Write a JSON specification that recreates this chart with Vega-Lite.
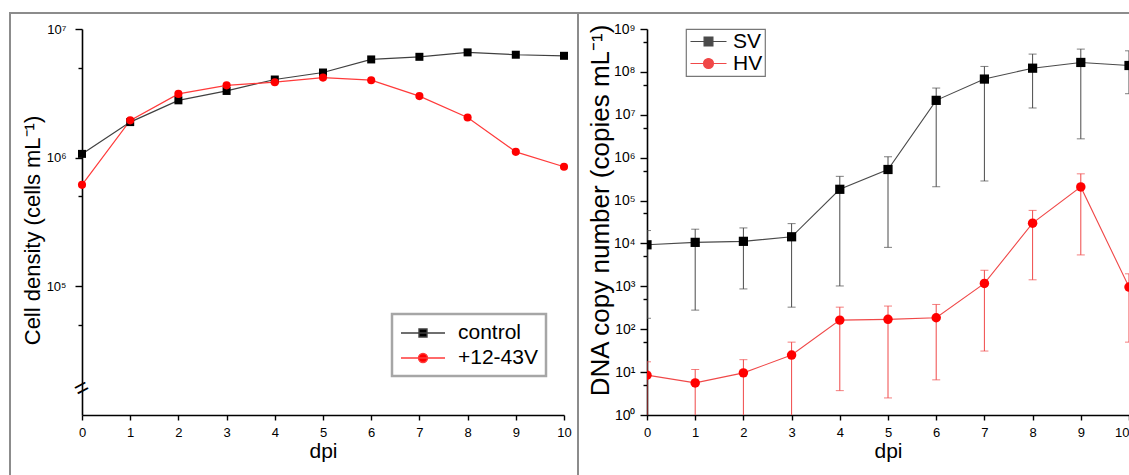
{
  "$schema": "https://vega.github.io/schema/vega-lite/v6.json",
  "padding": {"left": 7, "top": 10, "right": 0, "bottom": 0},
  "spacing": 0,
  "bounds": "flush",
  "columns": 7,
  "resolve": {
    "scale": {"x": "independent", "y": "independent", "color": "independent"},
    "legend": {"color": "independent"}
  },
  "config": {
    "view": {"stroke": null},
    "font": "Liberation Sans",
    "axis": {
      "grid": false,
      "domainColor": "black",
      "domainWidth": 1.6,
      "tickColor": "black",
      "tickWidth": 1.4,
      "labelColor": "black",
      "titleColor": "black",
      "titleFontWeight": "normal",
      "labelFont": "Liberation Sans",
      "titleFont": "Liberation Sans"
    }
  },
  "concat": [
    {"width": 2, "height": 2, "data": {"values": [{}]}, "mark": {"type": "point", "opacity": 0}, "encoding": {}, "view": {"fill": "#8c8c8c", "stroke": null}},
    {"width": 71, "height": 2, "data": {"values": [{}]}, "mark": {"type": "point", "opacity": 0}, "encoding": {}, "view": {"fill": "#8c8c8c", "stroke": null}},
    {"width": 482, "height": 2, "data": {"values": [{}]}, "mark": {"type": "point", "opacity": 0}, "encoding": {}, "view": {"fill": "#8c8c8c", "stroke": null}},
    {"width": 13, "height": 2, "data": {"values": [{}]}, "mark": {"type": "point", "opacity": 0}, "encoding": {}, "view": {"fill": "#8c8c8c", "stroke": null}},
    {"width": 2, "height": 2, "data": {"values": [{}]}, "mark": {"type": "point", "opacity": 0}, "encoding": {}, "view": {"fill": "#8c8c8c", "stroke": null}},
    {"width": 68, "height": 2, "data": {"values": [{}]}, "mark": {"type": "point", "opacity": 0}, "encoding": {}, "view": {"fill": "#8c8c8c", "stroke": null}},
    {"width": 484, "height": 2, "data": {"values": [{}]}, "mark": {"type": "point", "opacity": 0}, "encoding": {}, "view": {"fill": "#8c8c8c", "stroke": null}},

    {"width": 2, "height": 15, "data": {"values": [{}]}, "mark": {"type": "point", "opacity": 0}, "encoding": {}, "view": {"fill": "#8c8c8c", "stroke": null}},
    {"width": 1, "height": 1, "data": {"values": [{}]}, "mark": {"type": "point", "opacity": 0}, "encoding": {}},
    {"width": 1, "height": 1, "data": {"values": [{}]}, "mark": {"type": "point", "opacity": 0}, "encoding": {}},
    {"width": 1, "height": 1, "data": {"values": [{}]}, "mark": {"type": "point", "opacity": 0}, "encoding": {}},
    {"width": 2, "height": 15, "data": {"values": [{}]}, "mark": {"type": "point", "opacity": 0}, "encoding": {}, "view": {"fill": "#8c8c8c", "stroke": null}},
    {"width": 1, "height": 1, "data": {"values": [{}]}, "mark": {"type": "point", "opacity": 0}, "encoding": {}},
    {"width": 1, "height": 1, "data": {"values": [{}]}, "mark": {"type": "point", "opacity": 0}, "encoding": {}},

    {"width": 2, "height": 448, "data": {"values": [{}]}, "mark": {"type": "point", "opacity": 0}, "encoding": {}, "view": {"fill": "#8c8c8c", "stroke": null}},
    {"width": 1, "height": 1, "data": {"values": [{}]}, "mark": {"type": "point", "opacity": 0}, "encoding": {}},
    {
      "width": 482, "height": 386,
      "data": {"values": [
        {"dpi": 0, "series": "control", "density": 1070000},
        {"dpi": 1, "series": "control", "density": 1890000},
        {"dpi": 2, "series": "control", "density": 2790000},
        {"dpi": 3, "series": "control", "density": 3300000},
        {"dpi": 4, "series": "control", "density": 4050000},
        {"dpi": 5, "series": "control", "density": 4590000},
        {"dpi": 6, "series": "control", "density": 5800000},
        {"dpi": 7, "series": "control", "density": 6080000},
        {"dpi": 8, "series": "control", "density": 6580000},
        {"dpi": 9, "series": "control", "density": 6310000},
        {"dpi": 10, "series": "control", "density": 6190000},
        {"dpi": 0, "series": "+12-43V", "density": 615000},
        {"dpi": 1, "series": "+12-43V", "density": 1950000},
        {"dpi": 2, "series": "+12-43V", "density": 3130000},
        {"dpi": 3, "series": "+12-43V", "density": 3650000},
        {"dpi": 4, "series": "+12-43V", "density": 3860000},
        {"dpi": 5, "series": "+12-43V", "density": 4190000},
        {"dpi": 6, "series": "+12-43V", "density": 4000000},
        {"dpi": 7, "series": "+12-43V", "density": 3010000},
        {"dpi": 8, "series": "+12-43V", "density": 2050000},
        {"dpi": 9, "series": "+12-43V", "density": 1110000},
        {"dpi": 10, "series": "+12-43V", "density": 850000}
      ]},
      "encoding": {
        "x": {
          "field": "dpi", "type": "quantitative",
          "scale": {"domain": [0, 10], "nice": false, "zero": false},
          "axis": {
            "title": "dpi", "values": [0, 1, 2, 3, 4, 5, 6, 7, 8, 9, 10],
            "tickSize": 5, "labelPadding": 6, "labelFontSize": 13,
            "titleFontSize": 21, "titlePadding": 1, "labelFlush": false
          }
        },
        "y": {
          "field": "density", "type": "quantitative",
          "scale": {"type": "log", "domain": [10000, 10000000], "nice": false},
          "axis": {
            "title": "Cell density (cells mL⁻¹)",
            "values": [50000, 100000, 500000, 1000000, 5000000, 10000000],
            "labelExpr": "abs(log(datum.value)/LN10 - round(log(datum.value)/LN10)) > 0.05 ? '' : '10' + ['⁰','¹','²','³','⁴','⁵','⁶','⁷','⁸','⁹'][round(log(datum.value)/LN10)]",
            "tickSize": {"condition": {"test": "abs(log(datum.value)/LN10 - round(log(datum.value)/LN10)) > 0.05", "value": 4}, "value": 7},
            "labelPadding": 9, "labelFontSize": 13,
            "titleFontSize": 22, "titlePadding": 2, "titleY": 201
          }
        }
      },
      "layer": [
        {
          "mark": {"type": "line", "strokeWidth": 1.2},
          "encoding": {
            "color": {
              "field": "series", "type": "nominal",
              "scale": {"domain": ["control", "+12-43V"], "range": ["#404040", "#ff3a3a"]},
              "legend": {
                "orient": "none", "legendX": 310, "legendY": 285, "title": null,
                "direction": "vertical",
                "labelFontSize": 21, "labelFont": "Liberation Sans", "labelColor": "black", "labelLimit": 300,
                "symbolSize": 400, "symbolStrokeWidth": 1.4,
                "padding": 8, "strokeColor": "#a6a6a6", "fillColor": "white",
                "rowPadding": 4, "labelOffset": 36,
                "encode": {
                  "legend": {"update": {"strokeWidth": {"value": 2.5}}},
                  "symbols": {"update": {
                    "shape": {"signal": "datum.value === 'control' ? 'M-1,0H3.4M0.8,-0.4H1.6V0.4H0.8Z' : 'M-1,0H3.4M0.75,0A0.45,0.45,0,1,1,1.65,0A0.45,0.45,0,1,1,0.75,0Z'"},
                    "fill": {"signal": "datum.value === 'control' ? 'black' : 'red'"},
                    "stroke": {"signal": "datum.value === 'control' ? 'black' : 'red'"},
                    "strokeWidth": {"value": 1.4},
                    "opacity": {"value": 1}
                  }}
                }
              }
            }
          }
        },
        {
          "transform": [{"filter": "datum.series === 'control'"}],
          "mark": {"type": "point", "filled": true, "shape": "square", "size": 64, "opacity": 1, "color": "black"}
        },
        {
          "transform": [{"filter": "datum.series === '+12-43V'"}],
          "mark": {"type": "point", "filled": true, "shape": "circle", "size": 66, "opacity": 1, "color": "red"}
        },
        {
          "data": {"values": [{"dpi": 0, "density": 16000, "sym": "="}]},
          "mark": {"type": "text", "angle": 332, "fontSize": 24, "color": "black", "align": "center", "baseline": "middle"},
          "encoding": {"text": {"field": "sym"}}
        }
      ]
    },
    {"width": 1, "height": 1, "data": {"values": [{}]}, "mark": {"type": "point", "opacity": 0}, "encoding": {}},
    {"width": 2, "height": 448, "data": {"values": [{}]}, "mark": {"type": "point", "opacity": 0}, "encoding": {}, "view": {"fill": "#8c8c8c", "stroke": null}},
    {"width": 1, "height": 1, "data": {"values": [{}]}, "mark": {"type": "point", "opacity": 0}, "encoding": {}},
    {
      "width": 482, "height": 386,
      "data": {"values": [
        {"dpi": 0, "series": "SV", "copies": 9300, "lower": 180, "upper": 20000},
        {"dpi": 1, "series": "SV", "copies": 10600, "lower": 279, "upper": 21500},
        {"dpi": 2, "series": "SV", "copies": 11200, "lower": 870, "upper": 23000},
        {"dpi": 3, "series": "SV", "copies": 14300, "lower": 327, "upper": 29000},
        {"dpi": 4, "series": "SV", "copies": 183000, "lower": 1020, "upper": 367000},
        {"dpi": 5, "series": "SV", "copies": 530000, "lower": 8100, "upper": 1050000},
        {"dpi": 6, "series": "SV", "copies": 21700000, "lower": 210000, "upper": 42000000},
        {"dpi": 7, "series": "SV", "copies": 68000000, "lower": 286000, "upper": 134000000},
        {"dpi": 8, "series": "SV", "copies": 122000000, "lower": 14400000, "upper": 260000000},
        {"dpi": 9, "series": "SV", "copies": 166000000, "lower": 2750000, "upper": 340000000},
        {"dpi": 10, "series": "SV", "copies": 141000000, "lower": 31000000, "upper": 310000000},
        {"dpi": 0, "series": "HV", "copies": 8.5, "lower": 0.5, "upper": 17.4},
        {"dpi": 1, "series": "HV", "copies": 5.6, "lower": 0.5, "upper": 11.5},
        {"dpi": 2, "series": "HV", "copies": 9.6, "lower": 0.5, "upper": 19.5},
        {"dpi": 3, "series": "HV", "copies": 25, "lower": 0.5, "upper": 50},
        {"dpi": 4, "series": "HV", "copies": 163, "lower": 3.7, "upper": 327},
        {"dpi": 5, "series": "HV", "copies": 170, "lower": 2.5, "upper": 347},
        {"dpi": 6, "series": "HV", "copies": 185, "lower": 6.6, "upper": 378},
        {"dpi": 7, "series": "HV", "copies": 1170, "lower": 31, "upper": 2370},
        {"dpi": 8, "series": "HV", "copies": 29700, "lower": 1420, "upper": 59000},
        {"dpi": 9, "series": "HV", "copies": 208000, "lower": 5400, "upper": 420000},
        {"dpi": 10, "series": "HV", "copies": 960, "lower": 50, "upper": 1960}
      ]},
      "encoding": {
        "x": {
          "field": "dpi", "type": "quantitative",
          "scale": {"domain": [0, 10], "nice": false, "zero": false},
          "axis": {
            "title": "dpi", "values": [0, 1, 2, 3, 4, 5, 6, 7, 8, 9, 10],
            "tickSize": 5, "labelPadding": 6, "labelFontSize": 13,
            "labelAlign": {"condition": {"test": "datum.value === 10", "value": "right"}, "value": "center"},
            "titleFontSize": 21, "titlePadding": 1, "labelFlush": false
          }
        }
      },
      "layer": [
        {
          "mark": {"type": "rule", "strokeWidth": 1, "clip": true},
          "encoding": {
            "y": {"field": "lower", "type": "quantitative", "scale": {"type": "log", "domain": [1, 1000000000], "nice": false}},
            "y2": {"field": "upper"},
            "color": {"field": "series", "type": "nominal", "scale": {"domain": ["SV", "HV"], "range": ["#4a4a4a", "#f04848"]}}
          }
        },
        {
          "mark": {"type": "tick", "orient": "horizontal", "size": 8, "thickness": 1, "clip": true},
          "encoding": {
            "y": {"field": "upper", "type": "quantitative"},
            "color": {"field": "series", "type": "nominal"}
          }
        },
        {
          "mark": {"type": "tick", "orient": "horizontal", "size": 8, "thickness": 1, "clip": true},
          "encoding": {
            "y": {"field": "lower", "type": "quantitative"},
            "color": {"field": "series", "type": "nominal"}
          }
        },
        {
          "mark": {"type": "line", "strokeWidth": 1.1, "clip": true},
          "encoding": {
            "y": {
              "field": "copies", "type": "quantitative",
              "axis": {
                "title": "DNA copy number (copies mL⁻¹)",
                "values": [1, 5, 10, 50, 100, 500, 1000, 5000, 10000, 50000, 100000, 500000, 1000000, 5000000, 10000000, 50000000, 100000000, 500000000, 1000000000],
                "labelExpr": "abs(log(datum.value)/LN10 - round(log(datum.value)/LN10)) > 0.05 ? '' : '10' + ['⁰','¹','²','³','⁴','⁵','⁶','⁷','⁸','⁹'][round(log(datum.value)/LN10)]",
                "tickSize": {"condition": {"test": "abs(log(datum.value)/LN10 - round(log(datum.value)/LN10)) > 0.05", "value": 4}, "value": 7},
                "labelPadding": 5, "labelFontSize": 14,
                "titleFontSize": 26, "titlePadding": 0, "titleY": 181
              }
            },
            "color": {
              "field": "series", "type": "nominal",
              "legend": {
                "orient": "none", "legendX": 39, "legendY": 0, "title": null,
                "direction": "vertical",
                "labelFontSize": 21, "labelFont": "Liberation Sans", "labelColor": "black", "labelLimit": 300,
                "symbolSize": 256, "symbolStrokeWidth": 1.2,
                "padding": 2, "strokeColor": "#777777", "fillColor": "white",
                "rowPadding": 0, "labelOffset": 24,
                "encode": {
                  "legend": {"update": {"strokeWidth": {"value": 1.2}}},
                  "symbols": {"update": {
                    "shape": {"signal": "datum.value === 'SV' ? 'M-1,0H3.5M0.7,-0.56H1.8V0.56H0.7Z' : 'M-1,0H3.5M0.63,0A0.62,0.62,0,1,1,1.87,0A0.62,0.62,0,1,1,0.63,0Z'"},
                    "fill": {"signal": "datum.value === 'SV' ? 'black' : 'red'"},
                    "stroke": {"signal": "datum.value === 'SV' ? '#333333' : '#ff4040'"},
                    "strokeWidth": {"value": 1.2},
                    "opacity": {"value": 1}
                  }}
                }
              }
            }
          }
        },
        {
          "transform": [{"filter": "datum.series === 'SV'"}],
          "mark": {"type": "point", "filled": true, "shape": "square", "size": 85, "opacity": 1, "color": "black", "clip": true},
          "encoding": {"y": {"field": "copies", "type": "quantitative"}}
        },
        {
          "transform": [{"filter": "datum.series === 'HV'"}],
          "mark": {"type": "point", "filled": true, "shape": "circle", "size": 90, "opacity": 1, "color": "red", "clip": true},
          "encoding": {"y": {"field": "copies", "type": "quantitative"}}
        }
      ]
    }
  ]
}
